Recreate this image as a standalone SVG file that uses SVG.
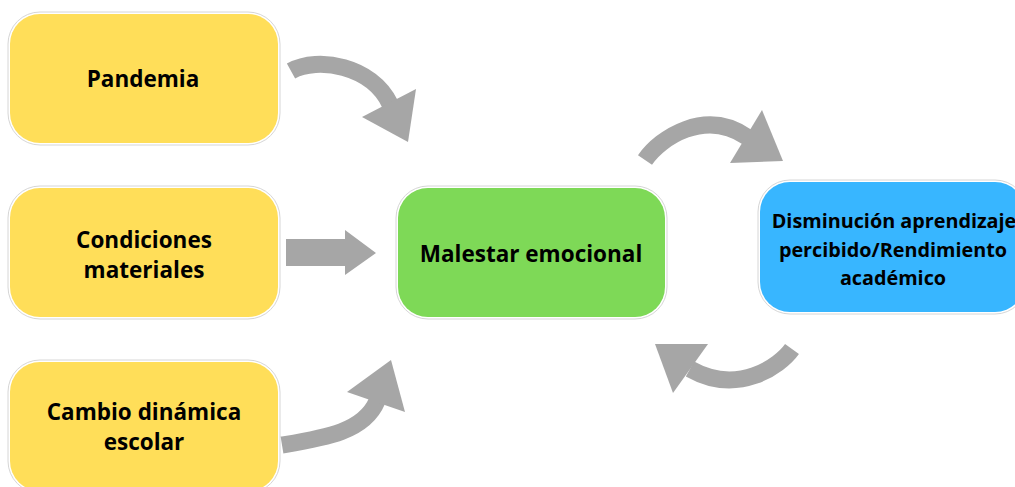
<svg xmlns="http://www.w3.org/2000/svg" width="1015" height="487" viewBox="0 0 1015 487">
<style>
.ring{fill:none;stroke:#d6d6d6;stroke-width:1}
.y{fill:#FFDE59}
.g{fill:#7ED957}
.b{fill:#38B6FF}
.t{font-family:"Open Sans","DejaVu Sans",sans-serif;font-weight:bold;fill:#000;text-anchor:middle}
.band{fill:none;stroke:#A6A6A6;stroke-width:17}
.head{fill:#A6A6A6}
</style>
<rect width="1015" height="487" fill="#fff"/>
<g id="pandemia">
<rect class="ring" x="8" y="12" width="272" height="133" rx="32"/>
<rect class="y" x="10" y="14" width="268" height="129" rx="30"/>
<text class="t" x="143" y="87" font-size="22.5">Pandemia</text>
</g>
<g id="condiciones">
<rect class="ring" x="8" y="186" width="272" height="133" rx="32"/>
<rect class="y" x="10" y="188" width="268" height="129" rx="30"/>
<text class="t" x="144" y="248" font-size="22.5">Condiciones</text>
<text class="t" x="144" y="278" font-size="22.5">materiales</text>
</g>
<g id="cambio">
<rect class="ring" x="8" y="360" width="272" height="133" rx="32"/>
<rect class="y" x="10" y="362" width="268" height="129" rx="30"/>
<text class="t" x="144" y="420" font-size="22.5">Cambio dinámica</text>
<text class="t" x="144" y="450" font-size="22.5">escolar</text>
</g>
<g id="malestar">
<rect class="ring" x="396" y="186" width="271" height="133" rx="32"/>
<rect class="g" x="398" y="188" width="267" height="129" rx="30"/>
<text class="t" x="531" y="262" font-size="22.5">Malestar emocional</text>
</g>
<g id="disminucion">
<rect class="ring" x="758" y="180" width="269" height="134" rx="32"/>
<rect class="b" x="760" y="182" width="265" height="130" rx="30"/>
<text class="t" x="894" y="228" font-size="19.8">Disminución aprendizaje</text>
<text class="t" x="893" y="257" font-size="19.8">percibido/Rendimiento</text>
<text class="t" x="893" y="285" font-size="19.8">académico</text>
</g>
<g id="connectors">
<path class="band" d="M291,71 C318,56 372,66 390,104"/>
<polygon class="head" points="416,89 362,117 408,142"/>
<polygon class="head" points="286,239 345,239 345,230 376,253 345,275 345,266 286,266"/>
<path class="band" d="M282,445 C324,438 364,432 377,401"/>
<polygon class="head" points="347,392 405,412 391,360"/>
<path class="band" d="M645,160 C660,138 705,108 747,137"/>
<polygon class="head" points="762,110 730,163 783,161"/>
<path class="band" d="M792,349 C780,366 738,396 690,369"/>
<polygon class="head" points="655,344 708,344 673,393"/>
</g>
</svg>
